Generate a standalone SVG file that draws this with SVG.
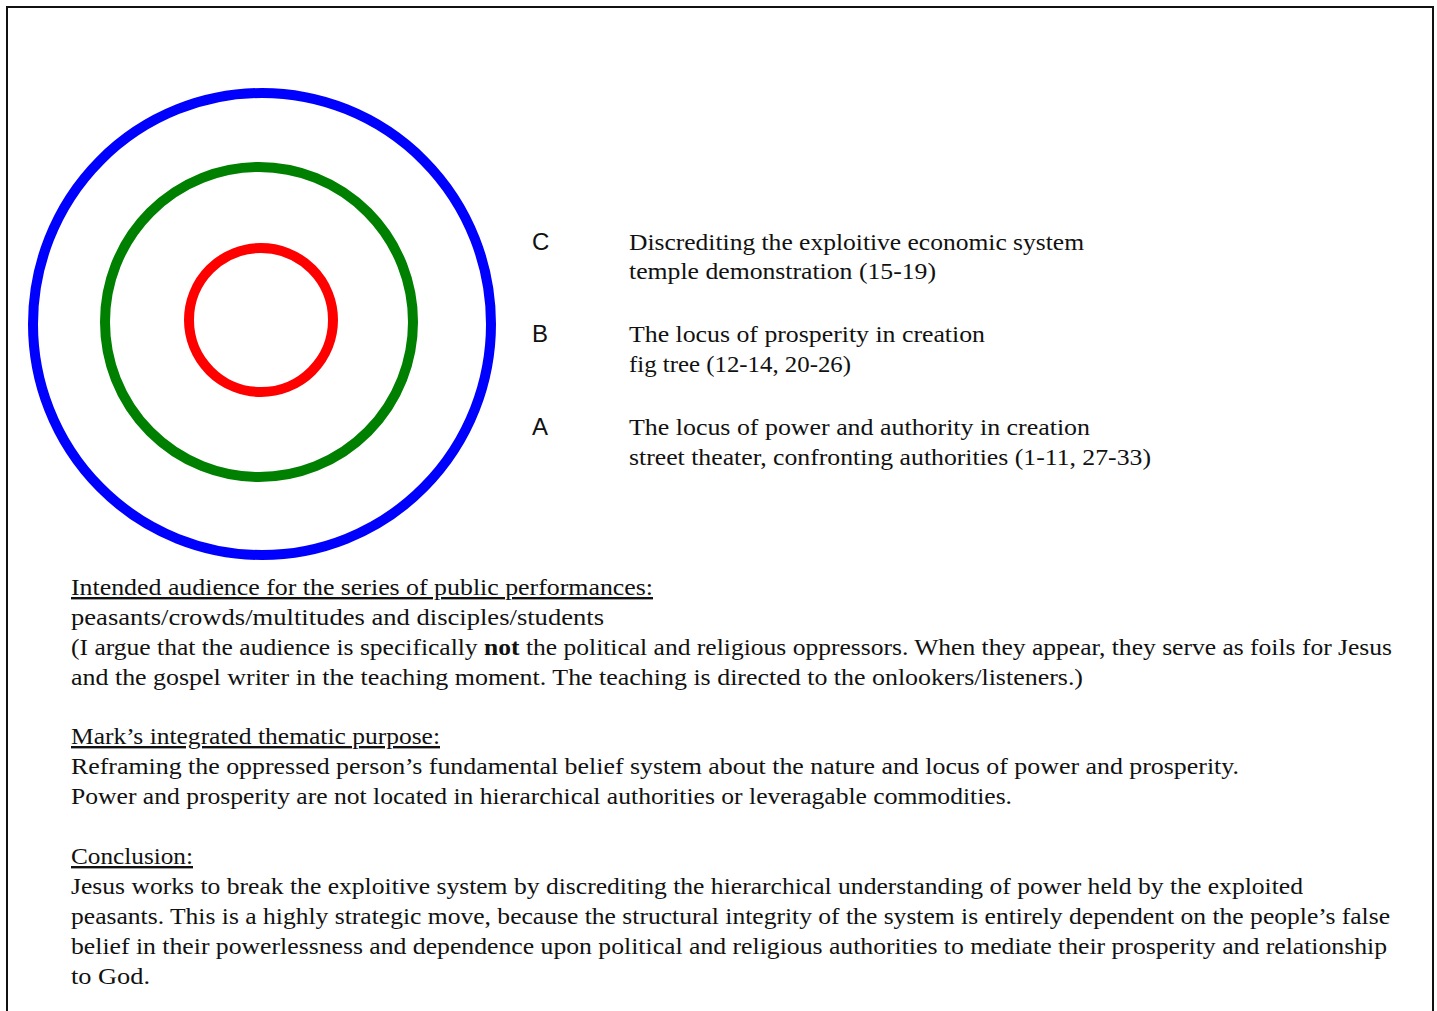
<svg xmlns="http://www.w3.org/2000/svg" width="1437" height="1011" viewBox="0 0 1437 1011">
<style>
.t{font-family:"Liberation Serif","Times New Roman",serif;font-size:24px;fill:#111}
.l{font-family:"Liberation Sans",Arial,sans-serif;font-size:24px;fill:#111}
.u{text-decoration:underline}
.ring{fill:none;stroke-width:10}
</style>
<rect x="0" y="0" width="1437" height="1011" fill="#fff"/>
<rect x="7" y="7" width="1426" height="1030" fill="none" stroke="#111" stroke-width="2"/>
<g id="rings">
<ellipse id="ringC" class="ring" cx="262" cy="324" rx="229" ry="231" stroke="#0000ff"/>
<ellipse id="ringB" class="ring" cx="259" cy="322" rx="154" ry="155" stroke="#008000"/>
<ellipse id="ringA" class="ring" cx="261" cy="320" rx="72" ry="72" stroke="#ff0000"/>
</g>
<g id="legendC">
<text class="l" x="532" y="250">C</text>
<text class="t" x="629" y="250" textLength="455" lengthAdjust="spacingAndGlyphs">Discrediting the exploitive economic system</text>
<text class="t" x="629" y="279" textLength="307" lengthAdjust="spacingAndGlyphs">temple demonstration (15-19)</text>
</g>
<g id="legendB">
<text class="l" x="532" y="342">B</text>
<text class="t" x="629" y="342" textLength="356" lengthAdjust="spacingAndGlyphs">The locus of prosperity in creation</text>
<text class="t" x="629" y="372" textLength="222" lengthAdjust="spacingAndGlyphs">fig tree (12-14, 20-26)</text>
</g>
<g id="legendA">
<text class="l" x="532" y="435">A</text>
<text class="t" x="629" y="435" textLength="461" lengthAdjust="spacingAndGlyphs">The locus of power and authority in creation</text>
<text class="t" x="629" y="465" textLength="522" lengthAdjust="spacingAndGlyphs">street theater, confronting authorities (1-11, 27-33)</text>
</g>
<g id="audience">
<text class="t u" x="71" y="595" textLength="582" lengthAdjust="spacingAndGlyphs">Intended audience for the series of public performances:</text>
<text class="t" x="71" y="625" textLength="533" lengthAdjust="spacingAndGlyphs">peasants/crowds/multitudes and disciples/students</text>
<text class="t" x="71" y="655" textLength="1321" lengthAdjust="spacingAndGlyphs">(I argue that the audience is specifically <tspan font-weight="bold">not</tspan> the political and religious oppressors. When they appear, they serve as foils for Jesus</text>
<text class="t" x="71" y="685" textLength="1012" lengthAdjust="spacingAndGlyphs">and the gospel writer in the teaching moment. The teaching is directed to the onlookers/listeners.)</text>
</g>
<g id="purpose">
<text class="t u" x="71" y="744" textLength="369" lengthAdjust="spacingAndGlyphs">Mark’s integrated thematic purpose:</text>
<text class="t" x="71" y="774" textLength="1168" lengthAdjust="spacingAndGlyphs">Reframing the oppressed person’s fundamental belief system about the nature and locus of power and prosperity.</text>
<text class="t" x="71" y="804" textLength="941" lengthAdjust="spacingAndGlyphs">Power and prosperity are not located in hierarchical authorities or leveragable commodities.</text>
</g>
<g id="conclusion">
<text class="t u" x="71" y="864" textLength="122" lengthAdjust="spacingAndGlyphs">Conclusion:</text>
<text class="t" x="71" y="894" textLength="1232" lengthAdjust="spacingAndGlyphs">Jesus works to break the exploitive system by discrediting the hierarchical understanding of power held by the exploited</text>
<text class="t" x="71" y="924" textLength="1319" lengthAdjust="spacingAndGlyphs">peasants. This is a highly strategic move, because the structural integrity of the system is entirely dependent on the people’s false</text>
<text class="t" x="71" y="954" textLength="1316" lengthAdjust="spacingAndGlyphs">belief in their powerlessness and dependence upon political and religious authorities to mediate their prosperity and relationship</text>
<text class="t" x="71" y="984" textLength="79" lengthAdjust="spacingAndGlyphs">to God.</text>
</g>
</svg>
